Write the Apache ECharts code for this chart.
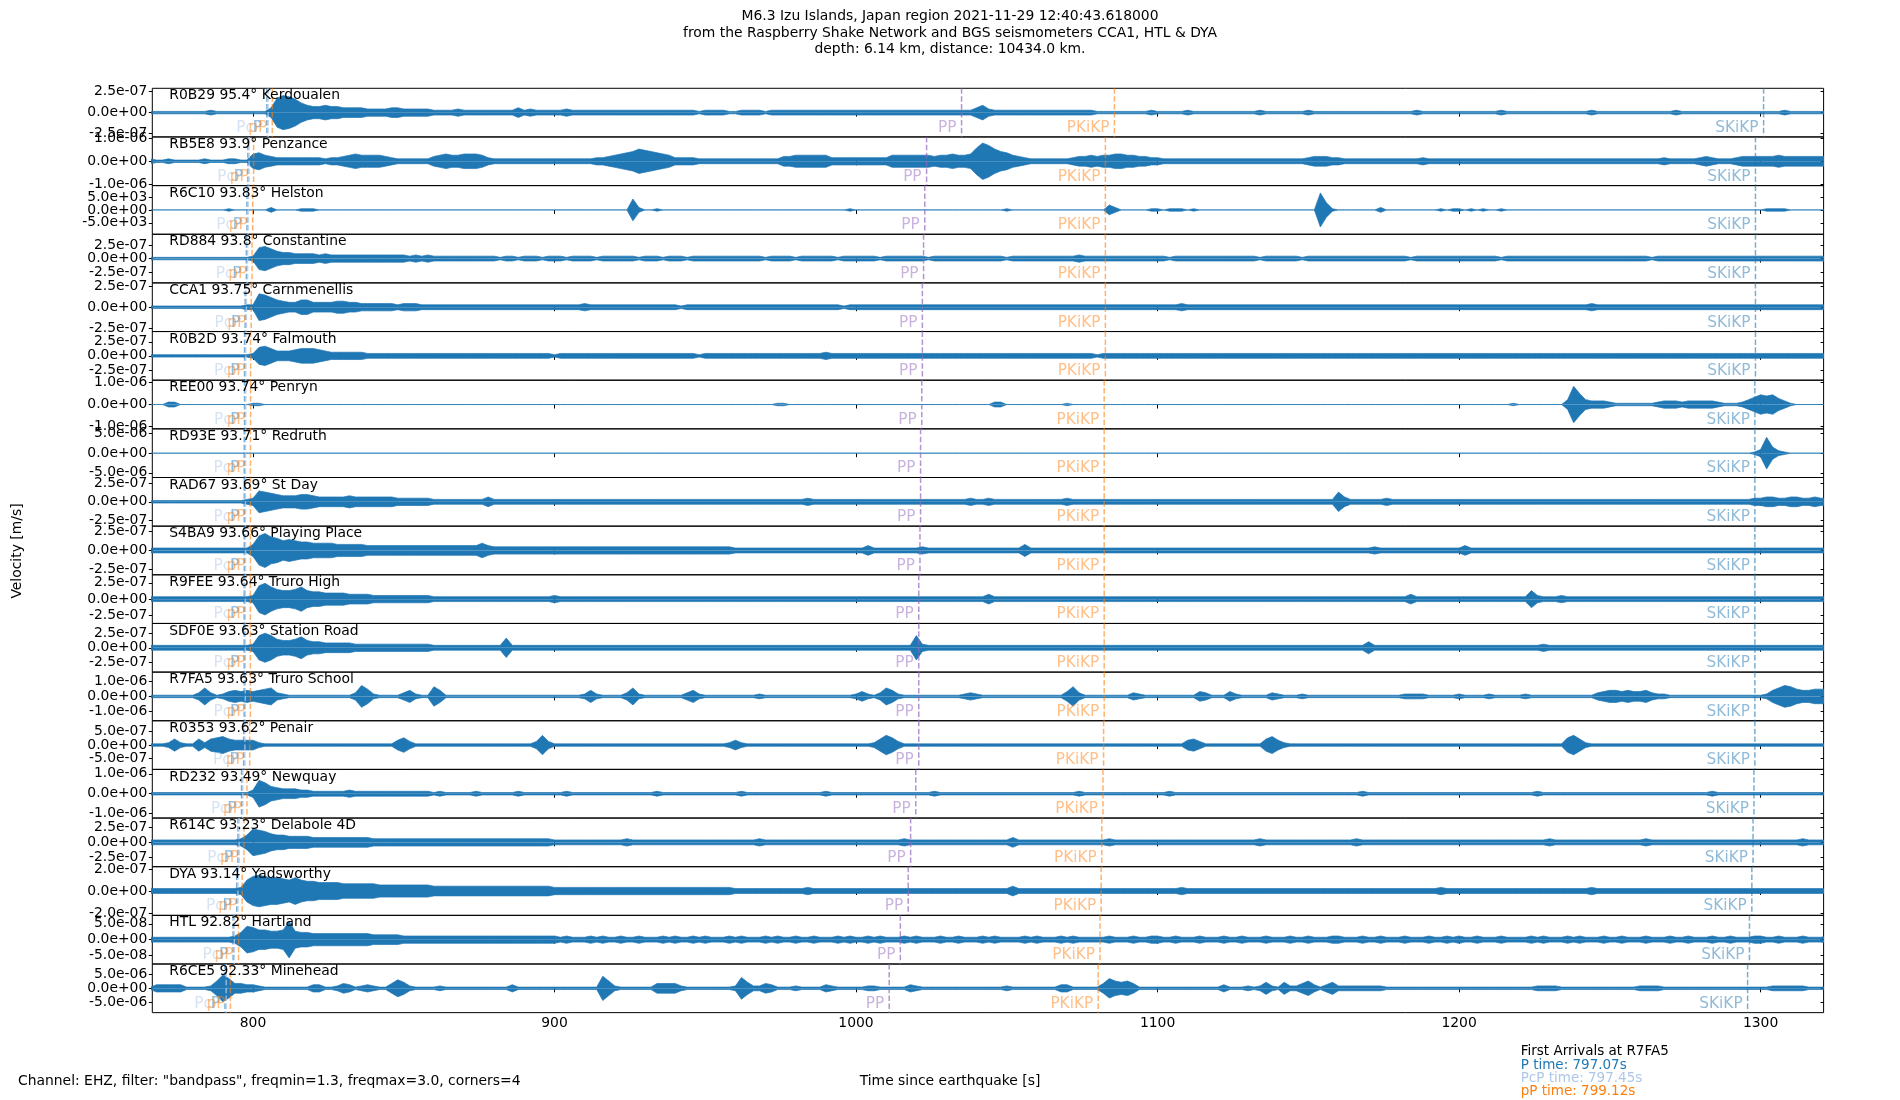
<!DOCTYPE html>
<html>
<head>
<meta charset="utf-8">
<title>M6.3 Izu Islands record section</title>
<script src="https://cdn.jsdelivr.net/npm/echarts@6/dist/echarts.min.js"></script>
<style>
html, body { margin: 0; padding: 0; background: #fff; }
#main { width: 1900px; height: 1100px; }
</style>
</head>
<body>
<div id="main"></div>
<script>
// stations, top to bottom
var codes = ['R0B29', 'RB5E8', 'R6C10', 'RD884', 'CCA1', 'R0B2D', 'REE00', 'RD93E', 'RAD67', 'S4BA9',
	'R9FEE', 'SDF0E', 'R7FA5', 'R0353', 'RD232', 'R614C', 'DYA', 'HTL', 'R6CE5'];
var dists = ['95.4', '93.9', '93.83', '93.8', '93.75', '93.74', '93.74', '93.71', '93.69', '93.66',
	'93.64', '93.63', '93.63', '93.62', '93.49', '93.23', '93.14', '92.82', '92.33'];
var places = ['Kerdoualen', 'Penzance', 'Helston', 'Constantine', 'Carnmenellis', 'Falmouth', 'Penryn', 'Redruth', 'St Day', 'Playing Place',
	'Truro High', 'Station Road', 'Truro School', 'Penair', 'Newquay', 'Delabole 4D', 'Yadsworthy', 'Hartland', 'Minehead'];

// y tick value and y limit of every panel [m/s]
var tickVals = [2.5e-7, 1e-6, 5e3, 2.5e-7, 2.5e-7, 2.5e-7, 1e-6, 5e-6, 2.5e-7, 2.5e-7,
	2.5e-7, 2.5e-7, 1e-6, 5e-7, 1e-6, 2.5e-7, 2e-7, 5e-8, 5e-6];
var yLim = [2.91e-7, 1.053e-6, 9434, 4.46e-7, 2.91e-7, 4.31e-7, 1.111e-6, 6.17e-6, 3.33e-7, 3.16e-7,
	3.73e-7, 4.17e-7, 1.613e-6, 9.09e-7, 1.22e-6, 4.03e-7, 2.2e-7, 7.7e-8, 8.47e-6];

// phase arrival times [s] per panel
var tP     = [804.6, 798.3, 798.0, 797.8, 797.4, 797.2, 797.2, 797.1, 797.1, 797.1, 797.07, 797.07, 797.07, 796.9, 796.2, 795.0, 794.6, 793.4, 790.7];
var tPcP   = [805.0, 798.7, 798.4, 798.2, 797.8, 797.6, 797.6, 797.5, 797.5, 797.5, 797.45, 797.45, 797.45, 797.3, 796.6, 795.4, 795.0, 793.8, 791.1];
var tpP    = [806.4, 800.2, 799.9, 799.7, 799.4, 799.2, 799.2, 799.15, 799.15, 799.15, 799.12, 799.12, 799.12, 798.9, 798.0, 797.0, 796.4, 795.2, 792.5];
var tPP    = [1035.0, 1023.4, 1022.8, 1022.4, 1022.0, 1022.0, 1021.8, 1021.4, 1021.4, 1021.2, 1020.8, 1020.8, 1020.8, 1020.8, 1019.8, 1018.1, 1017.3, 1014.7, 1011.0];
var tPKiKP = [1085.7, 1082.7, 1082.7, 1082.7, 1082.7, 1082.7, 1082.3, 1082.3, 1082.3, 1082.3, 1082.3, 1082.3, 1082.3, 1082.1, 1081.9, 1081.5, 1081.3, 1080.9, 1080.3];
var tSKiKP = [1301.0, 1298.3, 1298.3, 1298.3, 1298.3, 1298.3, 1298.1, 1298.1, 1298.1, 1298.1, 1298.1, 1298.1, 1298.1, 1298.1, 1297.8, 1297.5, 1297.1, 1296.3, 1295.7];

var phaseNames = ['P', 'PcP', 'pP', 'PP', 'PKiKP', 'SKiKP'];

// trace envelopes: one char per 2 s from 760 s,
// base-36 digit, amplitude = digit/20 of the panel's y limit
var envStart = 760, envStep = 2;
var env = [
	'1111111111 1112111111 1114cedb86 5565544443 3334433333 2222322222 2222423222 2232222222 2222222222 2222122221 1222212222 2222222222 2222222222 2222222222 4632222222 2222222222 1111111112 1111121111 1111111211 1111121111 1111111111 1112111111 1111111211 1111111111 1121111111 1111112111 1111111111 1111211111 1111111111',
	'1212112111 1121112211 6754333333 3323345655 5543222222 4565566653 2222222222 2222222334 5678a98765 3333222222 2222222244 5555553333 3333335555 5554556556 bfda875432 2222223445 4556655443 3222222222 2222222222 2222234443 3222222222 2222322222 2222222222 2222222222 2222222222 2222322222 3432223444 4445444444 4444444444',
	'0000000000 0000001000 0002000011 1000000000 0000000000 0000000000 0000000000 0000000000 0009200100 0000000000 0000000000 0000000001 0000000000 0000000000 0000010000 0000000000 0042000001 1011101000 0000000000 0000000e61 0000000200 0000000101 1010100100 0000000000 0000000000 0000000000 0000000000 0111100000 0000000000',
	'1111111111 1111111111 29a8655444 4343333333 3333332323 2222222222 2122122212 2212222122 2222122212 2212222222 2222212222 1222222122 2222122222 2212222222 2222212222 2222222322 2222222222 2212222222 2222222122 2222122222 2222222222 2212222222 2222222122 2222222222 2222222222 2212222222 2222222222 2222222222 2222222222',
	'1111111111 1111111112 2ba8654466 4444554433 3333233322 2222222222 2222222222 2222232222 2222222222 2122222222 2222222222 2222222212 2222222222 2222222222 2222222222 2222222222 2222222222 2222322222 2222222222 2222222222 2222222222 2222222222 2222222222 2222222222 2232222222 2222222222 2222222222 2222222222 2222222222',
	'1111111111 1111111111 2786444566 6543333332 2222222222 2222222222 2222222222 1222222222 2222222222 2222122222 2222222222 2222232222 2222222222 2222222222 2222222222 2222222222 1222222222 2222222222 2222222222 2222222222 2222222222 2222222222 2222222222 2222222222 2222222222 2222222222 2222222222 2222222222 2222222222',
	'0000002200 0000000000 1100000000 0000000000 0000000000 0000000000 0000000000 0000000000 0000000000 0000000000 0000000110 0000000000 0000000000 0000000000 0002200000 0000010000 0000000000 0000000000 0000000000 0000000000 0000000000 0000000000 0000000001 000000004f 9433321111 1112333233 3332111246 8785310000 0000000000',
	'0000000000 0000000000 0000000000 0000000000 0000000000 0000000000 0000000000 0000000000 0000000000 0000000000 0000000000 0000000000 0000000000 0000000000 0000000000 0000000000 0000000000 0000000000 0000000000 0000000000 0000000000 0000000000 0000000000 0000000000 0000000000 0000000000 0000000001 3d52100000 0000000000',
	'1111111111 1111111112 3987655566 5444445444 4444333333 2222222224 2222222222 2222222222 2222222222 2222222222 2222222222 2232222222 2222222222 2222222223 2232222222 2222232222 2222222222 2222222222 2222222222 2222222222 8422222232 2222222222 2222222222 2222222222 2222222222 2222222222 2222222223 3443344334 3333333333',
	'2222222222 2222222222 5ceba89877 6666555554 4444444444 4444444464 3333333333 3333333333 3333333333 3333333333 2222222222 2222222222 2242222222 2322222222 2222222252 2222222222 2222222222 2222222222 2222222222 2222222222 2222223222 2222222222 2422222222 2222222222 2222222222 2222222222 2222222222 2222222222 2222222222',
	'2222222222 2222222222 3bda8778a7 6655554444 3333333333 2222222222 2222222222 3222222222 2222222222 2222222222 2222222222 2222222222 2222222222 2222222222 2242222222 2222222222 2222222222 2222222222 2222222222 2222222222 2222222222 2242222222 2222222222 2273222322 2222222222 2222222222 2222222222 2222222222 2222222222',
	'2222222222 2222222222 3aca766796 5544444333 3333333333 2222222222 2282222222 2222222222 2222222222 2222222222 2222222222 2222222222 2222222222 a322222222 2222222222 2222222222 2222222222 2222222222 2222222222 2222222222 2222252222 2222222222 2222222222 2222322222 2222222222 2222222222 2222222222 2222222222 2222222222',
	'1111111111 1373124545 4567321111 1111111396 2111135211 8511111111 1111111111 1111125211 1137211111 1135211111 1111211111 1111111111 2421375211 1111111123 2111111111 1111148311 1111113211 1111111431 1142111113 2111211111 1111111111 1222211111 2111121111 1211111111 1113455454 4532211111 1111111111 1257986556 6666666666',
	'1111112521 1525675444 4211111111 1111111111 1111463111 1111111111 1111111383 1111111111 1111111111 1111111112 4211111111 1111111111 1112586311 1111111111 1111111111 1111111111 1111111111 1111145311 1111111157 4211111111 1111111111 1111111111 1111111111 1111111168 5211111111 1111111111 1111111111 1111111111 1111111111',
	'1111111111 1111111111 3b96544433 2222223222 2222222222 1211111211 1111211111 1121111111 1111111211 1111111111 1211111111 1111121111 1111111111 1112111111 1111111111 1111111211 1111111111 1121111111 1111111111 1111111111 1111211111 1111111111 1111111111 1112111111 1111111111 1111111111 1121111111 1111111111 1111111111',
	'2222222222 2222222236 ba97665555 4444444444 3333333333 3333333333 3333333333 2222222222 2232222222 2222222222 2222322222 2222222222 2222222232 2222222222 2222224222 2222222222 2232222222 2222222222 2222222322 2222222222 2223222222 2222222222 2222222222 2222232222 2222222222 2322222222 2222222222 2222222322 2222222222',
	'2222222222 2222222239 cdcbba9b98 8777766666 6555555555 4444444444 4444444444 3333333333 3333333333 3333333333 2222222222 2232222222 2222222222 2222222222 2222224222 2222222222 2222222222 2222322222 2222222222 2222222222 2222222222 2222222322 2222222222 2222222222 2232222222 2222222222 2222222222 2222222222 2222222232',
	'2222222222 222222236b a88778f766 5555555555 4444433333 3333333333 3333333333 3232223232 2322322232 3223232223 2322232322 3223222323 2232322232 3222322322 2323222232 3222323222 2232223223 3223222322 2322322232 2232232223 3222322322 2322232232 3223222322 2232322232 3222322322 2322232232 2232232223 3223222322 2322322232',
	'1111333331 11126b8443 3211111111 3311243123 2114752111 1211111111 1113111111 11111111a6 2111111444 4211111111 2952243111 2111132111 1122111113 2111111111 1111121111 1111331111 1486564111 1111111111 1311121252 1522463135 2222222211 1111111111 1111111111 1112222111 1111111111 2222111111 1111111111 1122222211 1111111111'
];

var xTicks = [800, 900, 1000, 1100, 1200, 1300];
var arrivalStation = 'R7FA5';
var arrivalP = '797.07', arrivalPcP = '797.45', arrivalpP = '799.12';

// layout (px)
var FONT = '"DejaVu Sans", sans-serif';
var gLeft = 152.3, gWidth = 1671.3, gTop = 88.3, gH = 48.65;
var xMin = 766.6, xMax = 1320.9;
var traceColor = '#1f77b4';
var phaseColors = ['#1f77b4', '#aec7e8', '#ff7f0e', '#9467bd', '#ff7f0e', '#1f77b4'];
var phaseLineAlpha = [0.6, 0.8, 0.6, 0.7, 0.6, 0.6];

function fmtExp(v) {
	if (v === 0) return '0.0e+00';
	var m = v.toExponential(1).split('e');
	var e = parseInt(m[1], 10);
	var a = Math.abs(e);
	return m[0] + 'e' + (e < 0 ? '-' : '+') + (a < 10 ? '0' : '') + a;
}

function envValues(s) {
	return s.replace(/\s+/g, '').split('').map(function (c) { return parseInt(c, 36); });
}

// dashed arrival line + label in the lower left of it
function renderPhase(params, api) {
	var t = api.value(0);
	var k = api.value(1);
	var cs = params.coordSys;
	var x = api.coord([t, 0])[0];
	var yb = cs.y + cs.height;
	return {
		type: 'group',
		children: [{
			type: 'line',
			shape: { x1: x, y1: cs.y, x2: x, y2: yb },
			style: { stroke: phaseColors[k], lineWidth: 1.5, lineDash: [5.5, 2.4], opacity: phaseLineAlpha[k] }
		}, {
			type: 'text',
			x: x - 5,
			y: yb - 9,
			style: {
				text: phaseNames[k], fill: phaseColors[k], opacity: 0.5,
				font: '15.3px ' + FONT, align: 'right', verticalAlign: 'middle'
			}
		}]
	};
}

// y tick labels (the axis hides the crowded ones, so they are drawn here)
function renderTickLabel(params, api) {
	var val = api.value(1);
	var p = api.coord([api.value(0), val]);
	return {
		type: 'text',
		x: params.coordSys.x - 5,
		y: p[1],
		style: { text: fmtExp(val), fill: '#000', font: '13.9px ' + FONT, align: 'right', verticalAlign: 'middle' }
	};
}

var grids = [], xAxes = [], yAxes = [], yAxesR = [], series = [], titles = [];

titles.push({
	text: 'M6.3 Izu Islands, Japan region 2021-11-29 12:40:43.618000\nfrom the Raspberry Shake Network and BGS seismometers CCA1, HTL & DYA\ndepth: 6.14 km, distance: 10434.0 km.',
	left: 'center', top: 8.5, padding: 0,
	textStyle: { fontFamily: FONT, fontSize: 13.9, fontWeight: 'normal', color: '#000', lineHeight: 16.3 }
});

for (var i = 0; i < codes.length; i++) {
	var panelTop = gTop + i * gH;
	grids.push({
		left: gLeft, top: panelTop, width: gWidth, height: gH,
		show: true, borderColor: '#000', borderWidth: 1, backgroundColor: 'transparent'
	});
	xAxes.push({
		gridIndex: i, type: 'value', position: 'top', min: xMin, max: xMax,
		axisLine: { show: false },
		axisTick: { show: true, inside: true, length: 4, customValues: xTicks, lineStyle: { color: '#000', width: 1 } },
		axisLabel: { show: false },
		splitLine: { show: false }
	});
	var tk = [tickVals[i], 0, -tickVals[i]];
	yAxes.push({
		gridIndex: i, type: 'value', position: 'left', min: -yLim[i], max: yLim[i],
		axisLine: { show: false },
		axisTick: { show: true, inside: false, length: 3.5, customValues: tk, lineStyle: { color: '#000', width: 1 } },
		axisLabel: { show: false },
		splitLine: { show: false }
	});
	yAxesR.push({
		gridIndex: i, type: 'value', position: 'right', min: -yLim[i], max: yLim[i],
		axisLine: { show: false },
		axisTick: { show: true, inside: true, length: 3, customValues: tk, lineStyle: { color: '#000', width: 1 } },
		axisLabel: { show: false },
		splitLine: { show: false }
	});
	titles.push({
		text: codes[i] + ' ' + dists[i] + '\u00b0 ' + places[i],
		left: gLeft + 17, top: panelTop + 0.5, padding: 0,
		textStyle: { fontFamily: FONT, fontSize: 13.9, fontWeight: 'normal', color: '#000' }
	});

	// trace drawn as its envelope band
	var vals = envValues(env[i]);
	var up = [], lo = [];
	for (var j = 0; j < vals.length; j++) {
		var t = envStart + j * envStep;
		var amp = vals[j] / 20 * yLim[i];
		up.push([t, amp]);
		lo.push([t, -amp]);
	}
	[up, lo].forEach(function (d) {
		series.push({
			type: 'line', xAxisIndex: i, yAxisIndex: i, data: d,
			symbol: 'none', silent: true, clip: true, z: 2,
			lineStyle: { color: traceColor, width: 0.7 },
			areaStyle: { color: traceColor, opacity: 1 }
		});
	});
	series.push({
		type: 'custom', xAxisIndex: i, yAxisIndex: i, silent: true, z: 3,
		renderItem: renderPhase,
		encode: { x: 0 },
		data: [[tP[i], 0], [tPcP[i], 1], [tpP[i], 2], [tPP[i], 3], [tPKiKP[i], 4], [tSKiKP[i], 5]]
	});
	series.push({
		type: 'custom', xAxisIndex: i, yAxisIndex: i, silent: true, z: 3,
		renderItem: renderTickLabel,
		encode: { x: 0, y: 1 },
		data: tk.map(function (v) { return [xMin, v]; })
	});
}

// labelled time axis under the last panel
xAxes.push({
	gridIndex: codes.length - 1, type: 'value', position: 'bottom', min: xMin, max: xMax,
	axisLine: { show: false },
	axisTick: { show: true, inside: false, length: 3.5, customValues: xTicks, lineStyle: { color: '#000', width: 1 } },
	axisLabel: {
		show: true, customValues: xTicks, margin: 4,
		formatter: function (val) { return String(val); },
		fontFamily: FONT, fontSize: 13.9, color: '#000'
	},
	splitLine: { show: false }
});

var chart = echarts.init(document.getElementById('main'), null, { renderer: 'canvas' });
chart.setOption({
	animation: false,
	backgroundColor: '#fff',
	title: titles,
	grid: grids,
	xAxis: xAxes,
	yAxis: yAxes.concat(yAxesR),
	series: series,
	graphic: [
		{ type: 'text', x: 17, y: 551, rotation: Math.PI / 2,
			style: { text: 'Velocity [m/s]', fill: '#000', font: '13.9px ' + FONT, align: 'center', verticalAlign: 'middle' } },
		{ type: 'text', x: 18, y: 1081,
			style: { text: 'Channel: EHZ, filter: "bandpass", freqmin=1.3, freqmax=3.0, corners=4', fill: '#000', font: '13.9px ' + FONT, align: 'left', verticalAlign: 'middle' } },
		{ type: 'text', x: 950, y: 1081,
			style: { text: 'Time since earthquake [s]', fill: '#000', font: '13.9px ' + FONT, align: 'center', verticalAlign: 'middle' } },
		{ type: 'text', x: 1520.7, y: 1051,
			style: { text: 'First Arrivals at ' + arrivalStation, fill: '#000', font: '13.5px ' + FONT, align: 'left', verticalAlign: 'middle' } },
		{ type: 'text', x: 1520.7, y: 1065,
			style: { text: 'P time: ' + arrivalP + 's', fill: '#1f77b4', font: '13.5px ' + FONT, align: 'left', verticalAlign: 'middle' } },
		{ type: 'text', x: 1520.7, y: 1078.3,
			style: { text: 'PcP time: ' + arrivalPcP + 's', fill: '#aec7e8', font: '13.5px ' + FONT, align: 'left', verticalAlign: 'middle' } },
		{ type: 'text', x: 1520.7, y: 1091.7,
			style: { text: 'pP time: ' + arrivalpP + 's', fill: '#ff7f0e', font: '13.5px ' + FONT, align: 'left', verticalAlign: 'middle' } }
	]
});
</script>
</body>
</html>
